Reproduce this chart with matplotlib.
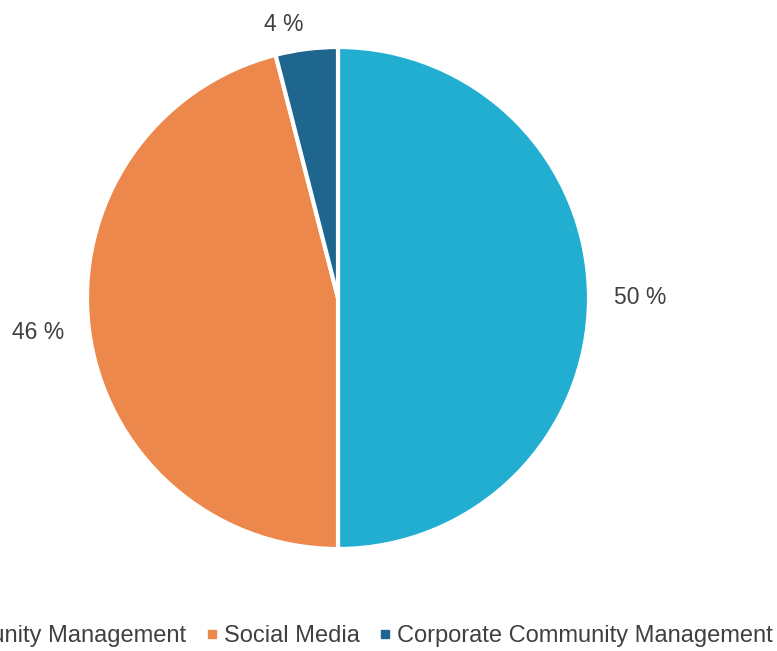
import matplotlib.pyplot as plt
from matplotlib.lines import Line2D

categories = ["Community Management", "Social Media", "Corporate Community Management"]
shares = [50, 46, 4]
colors = ["#21AED1", "#EC884B", "#1F668F"]

plt.rcParams["font.family"] = ["Liberation Sans", "DejaVu Sans"]
text_color = "#404040"

W, H = 777, 651
fig = plt.figure(figsize=(W / 100, H / 100), dpi=100)

cx, cy, r = 338, 298, 251
ax = fig.add_axes([(cx - r) / W, 1 - (cy + r) / H, 2 * r / W, 2 * r / H])

wedges, texts = ax.pie(
    shares,
    colors=colors,
    startangle=90,
    counterclock=False,
    labels=[f"{v} %" for v in shares],
    labeldistance=1.1,
    wedgeprops=dict(edgecolor="white", linewidth=3),
    textprops=dict(fontsize=16.5, color=text_color),
)
for t in texts:
    t.set_clip_on(False)
ax.set_xlim(-1, 1)
ax.set_ylim(-1, 1)
ax.set_aspect("equal")
ax.axis("off")

handles = [
    Line2D([], [], linestyle="none", marker="s", markersize=5.5,
           markerfacecolor=c, markeredgecolor=c)
    for c in colors
]
fig.legend(
    handles, categories,
    loc="center right",
    bbox_to_anchor=(773 / W, 1 - 636 / H),
    ncol=3, frameon=False,
    fontsize=17, labelcolor=text_color,
    handlelength=0.6, handletextpad=0.2, columnspacing=0.8,
    borderpad=0, borderaxespad=0,
)

fig.savefig("out.png", dpi=100)
